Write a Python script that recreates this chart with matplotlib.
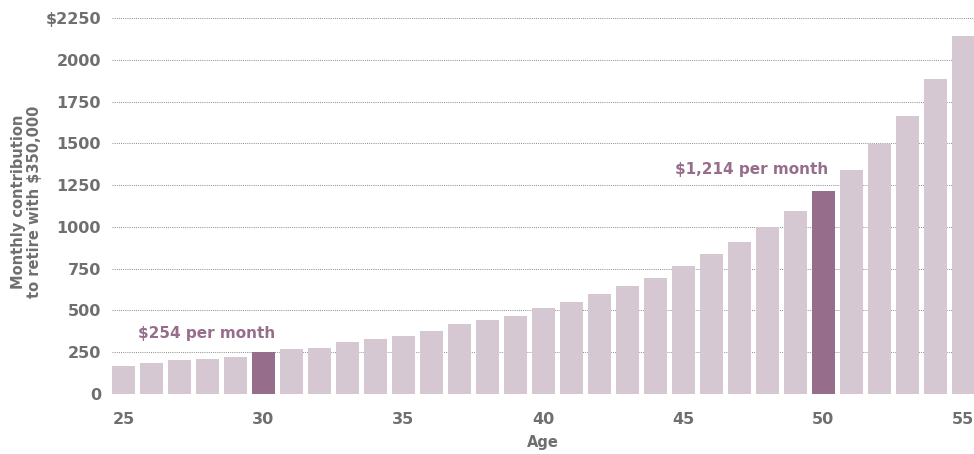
import matplotlib.pyplot as plt

# Monthly contribution needed by age
ages = list(range(25, 56))
contribution = [165, 183, 201, 207, 219, 254, 268, 274, 311, 329, 348,
                379, 416, 440, 465, 513, 549, 597, 645, 693, 765,
                837, 909, 997, 1093, 1214, 1340, 1497, 1666, 1887, 2141]
highlight_ages = [30, 50]
notes = ['$254 per month', '$1,214 per month']
y_ticks = [0, 250, 500, 750, 1000, 1250, 1500, 1750, 2000, 2250]
x_ticks = [25, 30, 35, 40, 45, 50, 55]

light = '#d6c8d3'
dark = '#966e8c'
grey = '#6f6f6f'

plt.rcParams['font.family'] = ['DejaVu Sans']
plt.rcParams['font.weight'] = 'bold'

fig = plt.figure(figsize=(9.74, 4.54), dpi=100)
ax = fig.add_axes([112 / 974, 1 - 394 / 454, 862 / 974, 376 / 454])

colors = [dark if a in highlight_ages else light for a in ages]
ax.bar(ages, contribution, width=0.82, color=colors, zorder=2)

ax.set_xlim(24.59, 55.39)
ax.set_ylim(0, 2250)
ax.set_yticks(y_ticks)
ax.set_yticklabels(['$2250' if t == 2250 else str(t) for t in y_ticks])
ax.set_xticks(x_ticks)
ax.tick_params(length=0, labelsize=11.5, colors=grey)
ax.tick_params(axis='x', pad=13)
ax.tick_params(axis='y', pad=8)
for lab in ax.get_xticklabels() + ax.get_yticklabels():
    lab.set_fontweight('bold')

ax.grid(axis='y', linestyle=(0, (1, 1.2)), color='#8a8a8a', linewidth=0.7, zorder=0)
for s in ax.spines.values():
    s.set_visible(False)

ax.set_xlabel('Age', fontsize=10.5, color=grey, fontweight='bold', labelpad=6)
ax.set_ylabel('Monthly contribution\nto retire with $350,000', fontsize=10.5,
              color=grey, fontweight='bold', linespacing=1.1)
ax.yaxis.set_label_coords(-0.081, 0.51)

# annotations over the highlighted bars
ax.text(30.41, 362, notes[0], ha='right', va='center', fontsize=11,
        color=dark, fontweight='bold')
ax.text(50.2, 1346, notes[1], ha='right', va='center', fontsize=11,
        color=dark, fontweight='bold')

plt.savefig('out.png', dpi=100)
plt.close()
